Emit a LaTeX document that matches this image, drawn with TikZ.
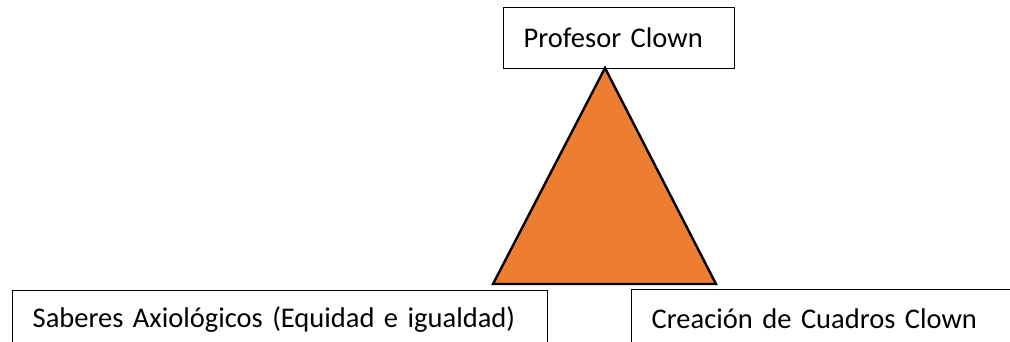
\documentclass[tikz,border=0pt]{standalone}
\usepackage{fontspec}
\setmainfont{Carlito}
\usepackage{tikz}
\usetikzlibrary{positioning}
\definecolor{naranja}{RGB}{237,125,49}

\begin{document}
\begin{tikzpicture}[x=1pt,y=-1pt]

\tikzset{caja/.style={draw, line width=1.4pt, anchor=north west, inner xsep=20pt,
    inner ysep=0pt, align=left, font=\fontsize{28.5}{34}\selectfont}}

\useasboundingbox (0,0) rectangle (1010,341);

% cajas
\node[caja, text width=191pt, minimum height=61pt] (profesor) at (503,7) {Profesor Clown};
\node[caja, text width=495pt, minimum height=57pt] (saberes) at (12,290) {Saberes Axiológicos (Equidad e igualdad)};
\node[caja, text width=360pt, minimum height=58pt] (creacion) at (631,289) {Creación de Cuadros Clown};

% triangulo
\coordinate (cima) at (605,68);
\coordinate (baseizq) at (493,284);
\coordinate (baseder) at (716,284);
\draw[fill=naranja, line width=2.4pt, line join=miter] (cima) -- (baseder) -- (baseizq) -- cycle;

\end{tikzpicture}
\end{document}
